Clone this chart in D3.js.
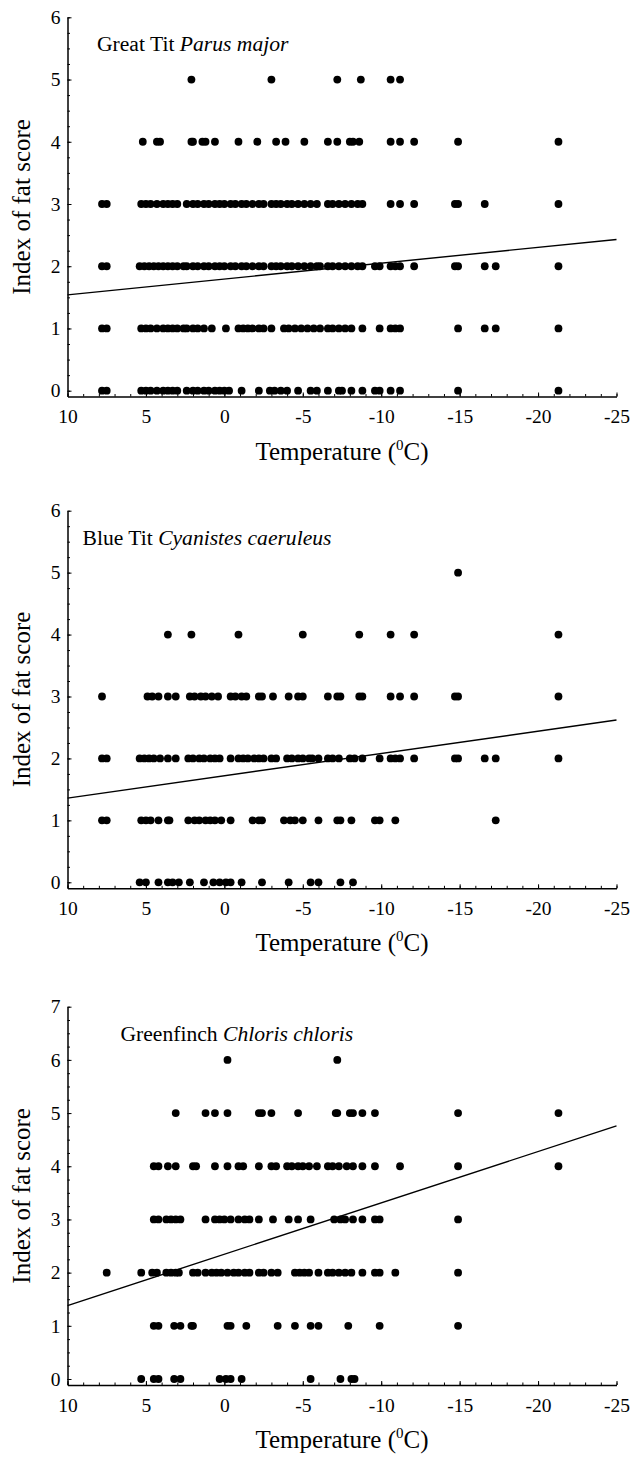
<!DOCTYPE html>
<html><head><meta charset="utf-8">
<script src="https://cdn.jsdelivr.net/npm/d3@7"></script>
<style>
body{margin:0;background:#fff}
text{font-family:"Liberation Serif","Times New Roman",serif;fill:#000}
</style>
</head><body>
<svg id="chart" width="633" height="1458"></svg>
<script>
// ---------- DATA ----------
const xMajorTicks = [10, 5, 0, -5, -10, -15, -20, -25];
const xTickLabels = ["10", "5", "0", "-5", "-10", "-15", "-20", "-25"];
const yTicksTits = [0, 1, 2, 3, 4, 5, 6];
const yTicksGreenfinch = [0, 1, 2, 3, 4, 5, 6, 7];
const speciesCommon = ["Great Tit", "Blue Tit", "Greenfinch"];
const speciesLatin = ["Parus major", "Cyanistes caeruleus", "Chloris chloris"];
const fitTemps = [10, -25];

// Great Tit: temperatures (°C) of birds at each fat score
const greatTit5 = [2.1, -3.0, -7.2, -8.7, -10.6, -11.2];
const greatTit4 = [5.2, 4.3, 4.1, 2.1, 2.0, 1.4, 1.2, 0.6, -0.9, -2.1, -3.3, -3.9, -5.1, -6.6, -7.2, -8.0, -8.2, -8.6, -10.6, -11.2, -12.1, -14.9, -21.3];
const greatTit3 = [7.8, 7.5, 5.3, 5.0, 4.7, 4.3, 3.9, 3.6, 3.3, 3.0, 2.4, 2.0, 1.7, 1.3, 1.0, 0.6, 0.3, 0.0, -0.4, -0.7, -1.1, -1.4, -1.8, -2.2, -2.5, -3.0, -3.3, -3.6, -4.0, -4.3, -4.7, -5.1, -5.5, -5.9, -6.6, -6.9, -7.3, -7.7, -8.1, -8.5, -8.8, -10.6, -11.2, -12.1, -14.7, -14.9, -16.6, -21.3];
const greatTit2 = [7.8, 7.5, 5.4, 5.1, 4.8, 4.5, 4.2, 3.9, 3.6, 3.3, 3.0, 2.6, 2.4, 2.0, 1.7, 1.3, 1.0, 0.6, 0.3, 0.0, -0.4, -0.7, -1.1, -1.4, -1.8, -2.2, -2.5, -3.0, -3.3, -3.6, -4.0, -4.3, -4.7, -5.1, -5.5, -5.9, -6.1, -6.6, -6.9, -7.3, -7.7, -8.1, -8.5, -8.8, -9.6, -9.9, -10.6, -10.9, -11.2, -12.1, -14.7, -14.9, -16.6, -17.3, -21.3];
const greatTit1 = [7.8, 7.5, 5.3, 5.0, 4.7, 4.3, 3.9, 3.6, 3.3, 3.0, 2.6, 2.4, 2.0, 1.7, 1.3, 0.8, -0.1, -0.9, -1.2, -1.5, -1.8, -2.2, -2.5, -3.0, -3.8, -4.1, -4.5, -4.9, -5.3, -5.7, -6.1, -6.6, -6.9, -7.3, -7.7, -8.1, -8.8, -9.9, -10.6, -10.9, -11.2, -14.9, -16.6, -17.3, -21.3];
const greatTit0 = [7.8, 7.5, 5.3, 5.0, 4.7, 4.3, 3.9, 3.6, 3.3, 3.0, 2.4, 2.0, 1.7, 1.3, 1.0, 0.6, 0.3, 0.0, -0.3, -1.1, -2.2, -2.9, -3.2, -3.6, -4.0, -4.7, -5.5, -5.9, -6.6, -7.3, -7.5, -8.1, -8.8, -9.6, -9.9, -10.6, -11.2, -14.9, -21.3];
const greatTitFit = [1.54, 2.43];

// Blue Tit
const blueTit5 = [-14.9];
const blueTit4 = [3.6, 2.1, -0.9, -5.0, -8.6, -10.6, -12.1, -21.3];
const blueTit3 = [7.8, 4.9, 4.6, 4.2, 3.6, 3.1, 2.2, 1.9, 1.5, 1.2, 0.8, 0.4, -0.4, -0.7, -1.1, -1.4, -2.2, -2.4, -3.1, -4.1, -4.7, -5.0, -6.6, -7.2, -7.4, -8.6, -8.8, -10.6, -11.2, -12.1, -14.7, -14.9, -21.3];
const blueTit2 = [7.8, 7.5, 5.4, 5.1, 4.8, 4.5, 4.1, 3.6, 3.1, 2.3, 2.0, 1.6, 1.3, 0.9, 0.6, 0.3, -0.4, -0.9, -1.2, -1.5, -1.9, -2.2, -2.5, -3.0, -3.3, -4.0, -4.3, -4.7, -5.0, -5.4, -5.6, -6.0, -6.6, -6.9, -7.3, -8.0, -8.3, -8.8, -9.9, -10.6, -10.9, -11.2, -12.1, -14.7, -14.9, -16.6, -17.3, -21.3];
const blueTit1 = [7.8, 7.5, 5.3, 5.0, 4.7, 4.2, 3.6, 3.5, 2.3, 1.9, 1.6, 1.2, 0.9, 0.6, 0.2, -0.4, -1.8, -2.2, -2.4, -3.8, -4.2, -4.5, -5.0, -6.0, -7.2, -7.4, -8.1, -9.6, -9.9, -10.9, -17.3];
const blueTit0 = [5.4, 5.0, 4.2, 3.6, 3.3, 2.9, 2.2, 1.3, 0.7, 0.3, -0.1, -0.4, -1.1, -2.4, -4.1, -5.5, -6.0, -7.4, -8.2];
const blueTitFit = [1.36, 2.62];

// Greenfinch
const greenfinch6 = [-0.2, -7.2];
const greenfinch5 = [3.1, 1.2, 0.6, -0.2, -2.2, -2.4, -3.0, -4.7, -7.1, -7.2, -8.0, -8.2, -8.8, -9.6, -14.9, -21.3];
const greenfinch4 = [4.5, 4.2, 3.6, 3.1, 2.0, 1.8, 0.6, -0.2, -0.9, -1.2, -2.2, -3.0, -3.3, -4.0, -4.3, -4.7, -5.0, -5.4, -5.9, -6.6, -6.9, -7.3, -7.8, -8.2, -8.8, -9.6, -11.2, -14.9, -21.3];
const greenfinch3 = [4.5, 4.2, 3.7, 3.4, 3.1, 2.8, 1.2, 0.6, 0.3, 0.0, -0.4, -0.9, -1.3, -1.6, -2.2, -3.1, -4.1, -4.7, -5.5, -7.0, -7.4, -7.7, -8.2, -8.8, -9.6, -9.9, -14.9];
const greenfinch2 = [7.5, 5.3, 4.6, 4.3, 3.7, 3.4, 3.1, 2.9, 2.0, 1.7, 1.2, 0.8, 0.5, 0.2, -0.2, -0.6, -0.9, -1.3, -1.6, -2.2, -2.5, -3.0, -3.4, -4.5, -4.8, -5.1, -5.4, -6.0, -6.6, -6.9, -7.3, -7.7, -8.1, -8.8, -9.6, -9.9, -10.9, -14.9];
const greenfinch1 = [4.5, 4.2, 3.2, 2.8, 2.1, 2.0, -0.2, -0.4, -1.4, -3.4, -4.5, -5.5, -6.0, -7.9, -9.9, -14.9];
const greenfinch0 = [5.3, 4.5, 4.2, 3.2, 2.8, 0.3, -0.1, -0.4, -1.1, -5.5, -7.4, -8.1, -8.3];
const greenfinchFit = [1.38, 4.76];

// ---------- LAYOUT ----------
const svg = d3.select("#chart");
const xLeft = 67.5, xRight = 616.5;

const panels = [
  {rows: [greatTit0, greatTit1, greatTit2, greatTit3, greatTit4, greatTit5], fit: greatTitFit,
   yTicks: yTicksTits, top: 17.3, zero: 390.7, axisY: 396.5, labelX: 97, labelY: 50.7, idx: 0},
  {rows: [blueTit0, blueTit1, blueTit2, blueTit3, blueTit4, blueTit5], fit: blueTitFit,
   yTicks: yTicksTits, top: 510.7, zero: 882.3, axisY: 888.3, labelX: 82.5, labelY: 544.5, idx: 1},
  {rows: [greenfinch0, greenfinch1, greenfinch2, greenfinch3, greenfinch4, greenfinch5, greenfinch6], fit: greenfinchFit,
   yTicks: yTicksGreenfinch, top: 1006.7, zero: 1379, axisY: 1385, labelX: 120.5, labelY: 1040.7, idx: 2}
];

const x = d3.scaleLinear().domain([10, -25]).range([xLeft, xRight]);

panels.forEach(p => {
  const yMax = d3.max(p.yTicks);
  const unit = (p.zero - p.top) / yMax;
  const yMin = -(p.axisY - p.zero) / unit;
  const y = d3.scaleLinear().domain([yMin, yMax]).range([p.axisY, p.top]);
  const g = svg.append("g");

  // x axis minor ticks
  g.append("g").attr("transform", `translate(0,${p.axisY})`)
    .call(d3.axisBottom(x).tickValues(d3.range(-25, 11, 1)).tickSizeInner(-2.5).tickSizeOuter(0).tickFormat(""))
    .call(a => a.select(".domain").remove())
    .call(a => a.selectAll("line").attr("stroke", "#000").attr("stroke-width", 1));
  // x axis major
  g.append("g").attr("transform", `translate(0,${p.axisY})`)
    .call(d3.axisBottom(x).tickValues(xMajorTicks).tickSizeInner(-4).tickSizeOuter(0).tickPadding(13)
      .tickFormat((d, i) => xTickLabels[i]))
    .call(a => a.select(".domain").attr("stroke", "#000").attr("stroke-width", 1.5))
    .call(a => a.selectAll("line").attr("stroke", "#000").attr("stroke-width", 1))
    .call(a => a.selectAll("text").attr("font-size", 19.5).attr("font-family", "Liberation Serif"));

  // y axis minor ticks
  g.append("g").attr("transform", `translate(${xLeft},0)`)
    .call(d3.axisLeft(y).tickValues(d3.range(0, yMax + 0.001, 0.25)).tickSizeInner(-2.5).tickSizeOuter(0).tickFormat(""))
    .call(a => a.select(".domain").remove())
    .call(a => a.selectAll("line").attr("stroke", "#000").attr("stroke-width", 1));
  // y axis major
  g.append("g").attr("transform", `translate(${xLeft},0)`)
    .call(d3.axisLeft(y).tickValues(p.yTicks).tickSizeInner(-4).tickSizeOuter(0).tickPadding(7).tickFormat(d3.format("d")))
    .call(a => a.select(".domain").attr("stroke", "#000").attr("stroke-width", 1.5))
    .call(a => a.selectAll("line").attr("stroke", "#000").attr("stroke-width", 1))
    .call(a => a.selectAll("text").attr("font-size", 19.5).attr("font-family", "Liberation Serif"));

  // points
  const pts = [];
  p.rows.forEach((temps, score) => temps.forEach(t => pts.push({t, score})));
  g.append("g").selectAll("circle").data(pts).join("circle")
    .attr("cx", d => x(d.t)).attr("cy", d => y(d.score)).attr("r", 3.9).attr("fill", "#000");

  // regression line
  g.append("line")
    .attr("x1", x(fitTemps[0])).attr("y1", y(p.fit[0]))
    .attr("x2", x(fitTemps[1])).attr("y2", y(p.fit[1]))
    .attr("stroke", "#000").attr("stroke-width", 1.4);

  // species label
  const lab = g.append("text").attr("x", p.labelX).attr("y", p.labelY).attr("font-size", 21.6);
  lab.append("tspan").text(speciesCommon[p.idx] + " ");
  lab.append("tspan").attr("font-style", "italic").text(speciesLatin[p.idx]);

  // x title
  const xt = g.append("text").attr("x", (xLeft + xRight) / 2).attr("y", p.axisY + 63)
    .attr("text-anchor", "middle").attr("font-size", 25);
  xt.append("tspan").text("Temperature (");
  xt.append("tspan").attr("font-size", 15).attr("dy", -10).text("0");
  xt.append("tspan").attr("dy", 10).text("C)");

  // y title
  g.append("text")
    .attr("transform", `translate(30,${(p.top + p.axisY) / 2}) rotate(-90)`)
    .attr("text-anchor", "middle").attr("font-size", 25)
    .text("Index of fat score");
});
</script>
</body></html>
